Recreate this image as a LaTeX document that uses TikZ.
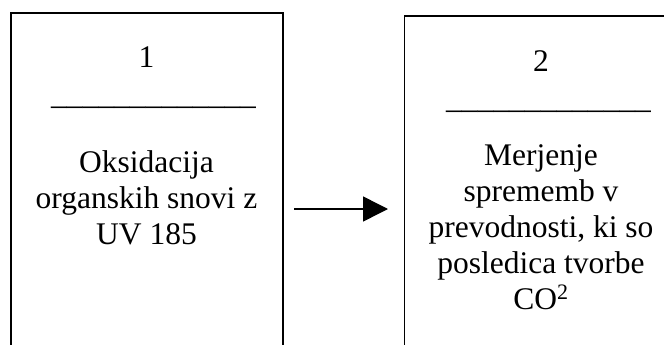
\documentclass[tikz,border=0pt]{standalone}
\usepackage{fontspec}
\setmainfont{Liberation Serif}
\usetikzlibrary{arrows.meta}
\begin{document}
\begin{tikzpicture}[x=1pt,y=-1pt,
  stage/.style={draw=black, line width=1.6pt, rectangle, inner sep=0pt, anchor=north west},
  body/.style={inner sep=0pt, anchor=base, font=\fontsize{31.5}{36}\selectfont},
  flow/.style={-{Triangle[length=25pt,width=25pt]}, line width=1.5pt}]
\useasboundingbox (0,0) rectangle (664,345);

% two process boxes, running past the lower (and right) edge
\node[stage, minimum width=272pt, minimum height=420pt] (b1) at (10,12.5) {};
\node[stage, minimum width=300pt, minimum height=420pt] (b2) at (403.5,15.5) {};

% step numbers and their blank underlines
\node[body] (n1) at (146.5,68) {1};
\node[body] (n2) at (541,72) {2};
\node[body] (r1) at (153.5,104.5) {\_\_\_\_\_\_\_\_\_\_\_\_\_};
\node[body] (r2) at (548.5,108) {\_\_\_\_\_\_\_\_\_\_\_\_\_};

% step descriptions
\node[body] (t1) at (146.5,172.5)
  {\begin{tabular}[t]{@{}c@{}}Oksidacija\\organskih snovi z\\UV 185\end{tabular}};
\node[body] (t2) at (541,165)
  {\begin{tabular}[t]{@{}c@{}}Merjenje\\sprememb v\\prevodnosti, ki so\\posledica tvorbe\\CO\textsuperscript{2}\end{tabular}};

% flow from step 1 to step 2
\coordinate (row) at (0,209);
\draw[flow, shorten <=10.7pt, shorten >=15.5pt] (b1.east |- row) -- (b2.west |- row);
\end{tikzpicture}
\end{document}
